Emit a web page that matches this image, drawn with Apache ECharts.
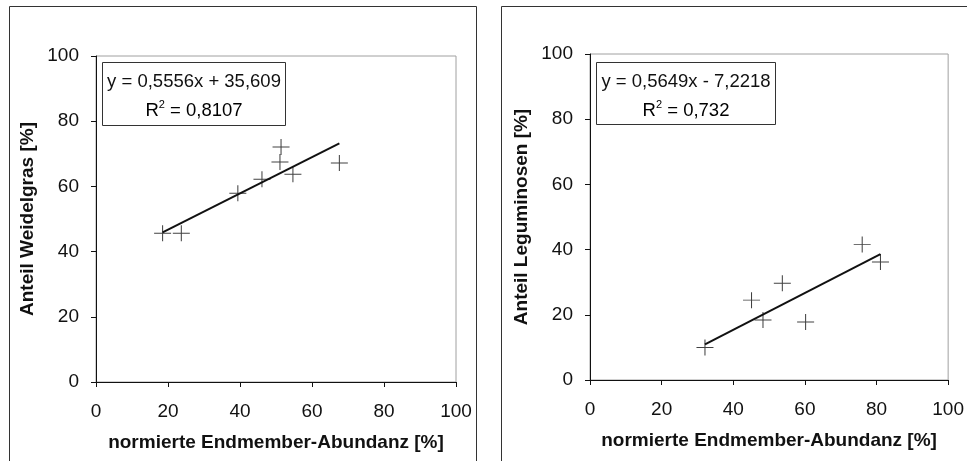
<!DOCTYPE html>
<html>
<head>
<meta charset="utf-8">
<script src="https://cdn.jsdelivr.net/npm/echarts@6/dist/echarts.min.js"></script>
<style>
  html, body { margin: 0; padding: 0; background: #fff; }
  #chart { width: 967px; height: 461px; }
</style>
</head>
<body>
<div id="chart"></div>
<script>
// Weidelgras (links)
var grassPoints = [[18.5, 45.6], [23.7, 45.6], [39.4, 57.9], [46.1, 62.2], [51.4, 72.1], [51.1, 67.5], [54.7, 63.7], [67.6, 67.2]];
var grassTrend = [[18.5, 45.9], [67.6, 73.2]];
// Leguminosen (rechts)
var legumePoints = [[32.1, 10.0], [45.1, 24.5], [48.3, 18.4], [53.7, 29.7], [60.2, 17.8], [76.0, 41.6], [81.1, 36.2]];
var legumeTrend = [[32.1, 10.9], [81.1, 38.6]];
var axisTicks = [0, 20, 40, 60, 80, 100];
var yTitles = ['Anteil Weidelgras [%]', 'Anteil Leguminosen [%]'];
var xTitle = 'normierte Endmember-Abundanz [%]';
var equations = [['y = 0,5556x + 35,609', '0,8107'], ['y = 0,5649x - 7,2218', '0,732']];

var FONT = '"Liberation Sans", Arial, sans-serif';
var chart = echarts.init(document.getElementById('chart'));

function xAxis(idx) {
  return {
    gridIndex: idx, type: 'value', min: axisTicks[0], max: axisTicks[axisTicks.length - 1], interval: 20,
    name: xTitle, nameLocation: 'middle', nameGap: 51,
    nameTextStyle: { fontFamily: FONT, fontSize: 19, fontWeight: 'bold', color: '#111' },
    axisLine: { show: true, lineStyle: { color: '#111', width: 1 } },
    axisTick: { show: true, length: 5, lineStyle: { color: '#111' } },
    axisLabel: { margin: 20, fontFamily: FONT, fontSize: 19, color: '#111' },
    splitLine: { show: false }
  };
}

function yAxis(idx) {
  return {
    gridIndex: idx, type: 'value', min: axisTicks[0], max: axisTicks[axisTicks.length - 1], interval: 20,
    name: yTitles[idx], nameLocation: 'middle', nameGap: 59,
    nameTextStyle: { fontFamily: FONT, fontSize: 19, fontWeight: 'bold', color: '#111' },
    axisLine: { show: true, lineStyle: { color: '#111', width: 1 } },
    axisTick: { show: true, length: 5, lineStyle: { color: '#111' } },
    axisLabel: { margin: 17, fontFamily: FONT, fontSize: 19, color: '#111' },
    splitLine: { show: false }
  };
}

function scatter(idx, data) {
  return {
    type: 'scatter', xAxisIndex: idx, yAxisIndex: idx, data: data,
    symbol: 'path://M0,8L17,8M8.5,0L8.5,16', symbolSize: [17, 16],
    itemStyle: { color: 'none', borderColor: '#111', borderWidth: 1 },
    z: 3
  };
}

function trend(idx, data) {
  return {
    type: 'line', xAxisIndex: idx, yAxisIndex: idx, data: data,
    symbol: 'none', lineStyle: { color: '#111', width: 2 }, z: 4
  };
}

function eqBox(x, y, w, h, lines) {
  return {
    type: 'group', left: x, top: y,
    children: [
      { type: 'rect', shape: { x: 0, y: 0, width: w, height: h },
        style: { fill: '#fff', stroke: '#333', lineWidth: 1 } },
      { type: 'text', x: w / 2, y: 19,
        style: { text: lines[0], font: '18.5px ' + FONT, fill: '#111', align: 'center', verticalAlign: 'middle' } },
      { type: 'text', x: w / 2, y: 48,
        style: {
          text: '{a|R}{s|2}{a| = ' + lines[1] + '}', align: 'center', verticalAlign: 'middle',
          rich: {
            a: { fontFamily: FONT, fontSize: 18.5, color: '#111', lineHeight: 22 },
            s: { fontFamily: FONT, fontSize: 11, color: '#111', verticalAlign: 'top', lineHeight: 22, padding: [0, 0, 8, 0] }
          }
        } }
    ]
  };
}

chart.setOption({
  animation: false,
  backgroundColor: '#fff',
  grid: [
    { left: 96, top: 56, width: 360, height: 326, show: true, borderColor: '#a0a0a0', borderWidth: 1, backgroundColor: 'transparent' },
    { left: 590, top: 54, width: 359, height: 326, show: true, borderColor: '#a0a0a0', borderWidth: 1, backgroundColor: 'transparent' }
  ],
  xAxis: [xAxis(0), xAxis(1)],
  yAxis: [yAxis(0), yAxis(1)],
  series: [
    scatter(0, grassPoints), trend(0, grassTrend),
    scatter(1, legumePoints), trend(1, legumeTrend)
  ],
  graphic: [
    { type: 'rect', left: 7, top: 4, shape: { width: 467, height: 470 }, style: { fill: 'none', stroke: '#333', lineWidth: 1 }, silent: true },
    { type: 'rect', left: 499, top: 4, shape: { width: 467, height: 470 }, style: { fill: 'none', stroke: '#333', lineWidth: 1 }, silent: true },
    eqBox(102, 62, 183, 63, equations[0]),
    eqBox(596, 62, 179, 62, equations[1])
  ]
});
</script>
</body>
</html>
